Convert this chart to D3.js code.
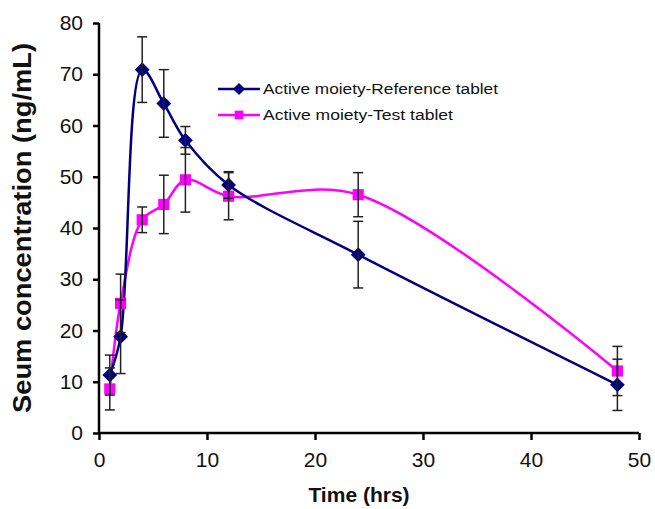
<!DOCTYPE html>
<html>
<head>
<meta charset="utf-8">
<script src="https://cdn.jsdelivr.net/npm/d3@7"></script>
<style>
  body { margin: 0; background: #fff; }
  svg { display: block; font-family: "Liberation Sans", Arial, sans-serif; }
</style>
</head>
<body>
<svg id="chart" width="655" height="509"></svg>
<script>
// time points (hrs)
var times = [1, 2, 4, 6, 8, 12, 24, 48];

// active moiety - reference tablet
var refMean = [11.3, 18.8, 70.9, 64.3, 57.1, 48.4, 34.8, 9.4];
var refSd = [3.9, 7.2, 6.4, 6.6, 2.7, 2.6, 6.5, 5.0];

// active moiety - test tablet
var testMean = [8.6, 25.3, 41.6, 44.6, 49.4, 46.2, 46.5, 12.1];
var testSd = [4.1, 5.7, 2.5, 5.7, 6.3, 4.6, 4.3, 4.8];

var xTicks = [0, 10, 20, 30, 40, 50];
var yTicks = [0, 10, 20, 30, 40, 50, 60, 70, 80];

var seriesNames = ["Active moiety-Reference tablet", "Active moiety-Test tablet"];

var svg = d3.select("#chart");

var x = d3.scaleLinear().domain([0, 50]).range([99, 639]);
var y = d3.scaleLinear().domain([0, 80]).range([433, 23]);

// axes
var xAxis = svg.append("g")
  .attr("transform", "translate(0," + y(0) + ")")
  .call(d3.axisBottom(x).tickValues(xTicks).tickSize(7).tickPadding(12));
var yAxis = svg.append("g")
  .attr("transform", "translate(" + x(0) + ",0)")
  .call(d3.axisLeft(y).tickValues(yTicks).tickSize(6).tickPadding(10));

[xAxis, yAxis].forEach(function (g) {
  g.select(".domain").attr("stroke", "#000").attr("stroke-width", 2.5);
  g.selectAll(".tick line").attr("stroke", "#000").attr("stroke-width", 2.5);
  g.selectAll(".tick text")
    .attr("fill", "#111")
    .style("font-size", "21px")
    .style("font-family", "'Liberation Sans', Arial, sans-serif");
});
// no outer ticks
xAxis.select(".domain").attr("d", "M" + x(0) + ",0H" + x(50));
yAxis.select(".domain").attr("d", "M0," + y(0) + "V" + y(80));

// axis titles
svg.append("text")
  .attr("x", 359)
  .attr("y", 502)
  .attr("text-anchor", "middle")
  .style("font-size", "21px")
  .style("font-weight", "bold")
  .attr("fill", "#111")
  .text("Time (hrs)");

svg.append("text")
  .attr("transform", "translate(31,228) rotate(-90)")
  .attr("text-anchor", "middle")
  .attr("textLength", 370)
  .attr("lengthAdjust", "spacingAndGlyphs")
  .style("font-size", "26px")
  .style("font-weight", "bold")
  .attr("fill", "#111")
  .text("Seum concentration (ng/mL)");

var line = d3.line()
  .x(function (d) { return x(d.t); })
  .y(function (d) { return y(d.v); })
  .curve(d3.curveCatmullRom.alpha(0.5));

function rows(mean, sd) {
  return times.map(function (t, i) { return { t: t, v: mean[i], sd: sd[i] }; });
}

var series = [
  { name: seriesNames[0], color: "#000080", rot: 45, size: 110, data: rows(refMean, refSd) },
  { name: seriesNames[1], color: "#ff00ff", rot: 0, size: 125, data: rows(testMean, testSd) }
];

// draw test first so reference sits on top
series.slice().reverse().forEach(function (s) {
  svg.append("path")
    .datum(s.data)
    .attr("fill", "none")
    .attr("stroke", s.color)
    .attr("stroke-width", 2.5)
    .attr("d", line);
});

series.slice().reverse().forEach(function (s) {
  svg.append("g").selectAll("path")
    .data(s.data)
    .join("path")
    .attr("transform", function (d) {
      return "translate(" + x(d.t) + "," + y(d.v) + ") rotate(" + s.rot + ")";
    })
    .attr("fill", s.color)
    .attr("d", d3.symbol().type(d3.symbolSquare).size(s.size));
});

// error bars
series.forEach(function (s) {
  var g = svg.append("g").attr("stroke", "#222").attr("stroke-width", 1.5);
  s.data.forEach(function (d) {
    var cx = x(d.t), top = y(d.v + d.sd), bot = y(d.v - d.sd);
    g.append("line").attr("x1", cx).attr("x2", cx).attr("y1", top).attr("y2", bot);
    g.append("line").attr("x1", cx - 5).attr("x2", cx + 5).attr("y1", top).attr("y2", top);
    g.append("line").attr("x1", cx - 5).attr("x2", cx + 5).attr("y1", bot).attr("y2", bot);
  });
});

// legend
var legend = svg.append("g");
var legendText = [235, 190];
series.forEach(function (s, i) {
  var ly = 89 + i * 26;
  legend.append("line")
    .attr("x1", 218).attr("x2", 260).attr("y1", ly).attr("y2", ly)
    .attr("stroke", s.color).attr("stroke-width", 2.5);
  legend.append("path")
    .attr("transform", "translate(239," + ly + ") rotate(" + s.rot + ")")
    .attr("fill", s.color)
    .attr("d", d3.symbol().type(d3.symbolSquare).size(75));
  legend.append("text")
    .attr("x", 263).attr("y", ly + 5)
    .attr("textLength", legendText[i])
    .attr("lengthAdjust", "spacingAndGlyphs")
    .style("font-size", "14px")
    .attr("fill", "#111")
    .text(s.name);
});
</script>
</body>
</html>
